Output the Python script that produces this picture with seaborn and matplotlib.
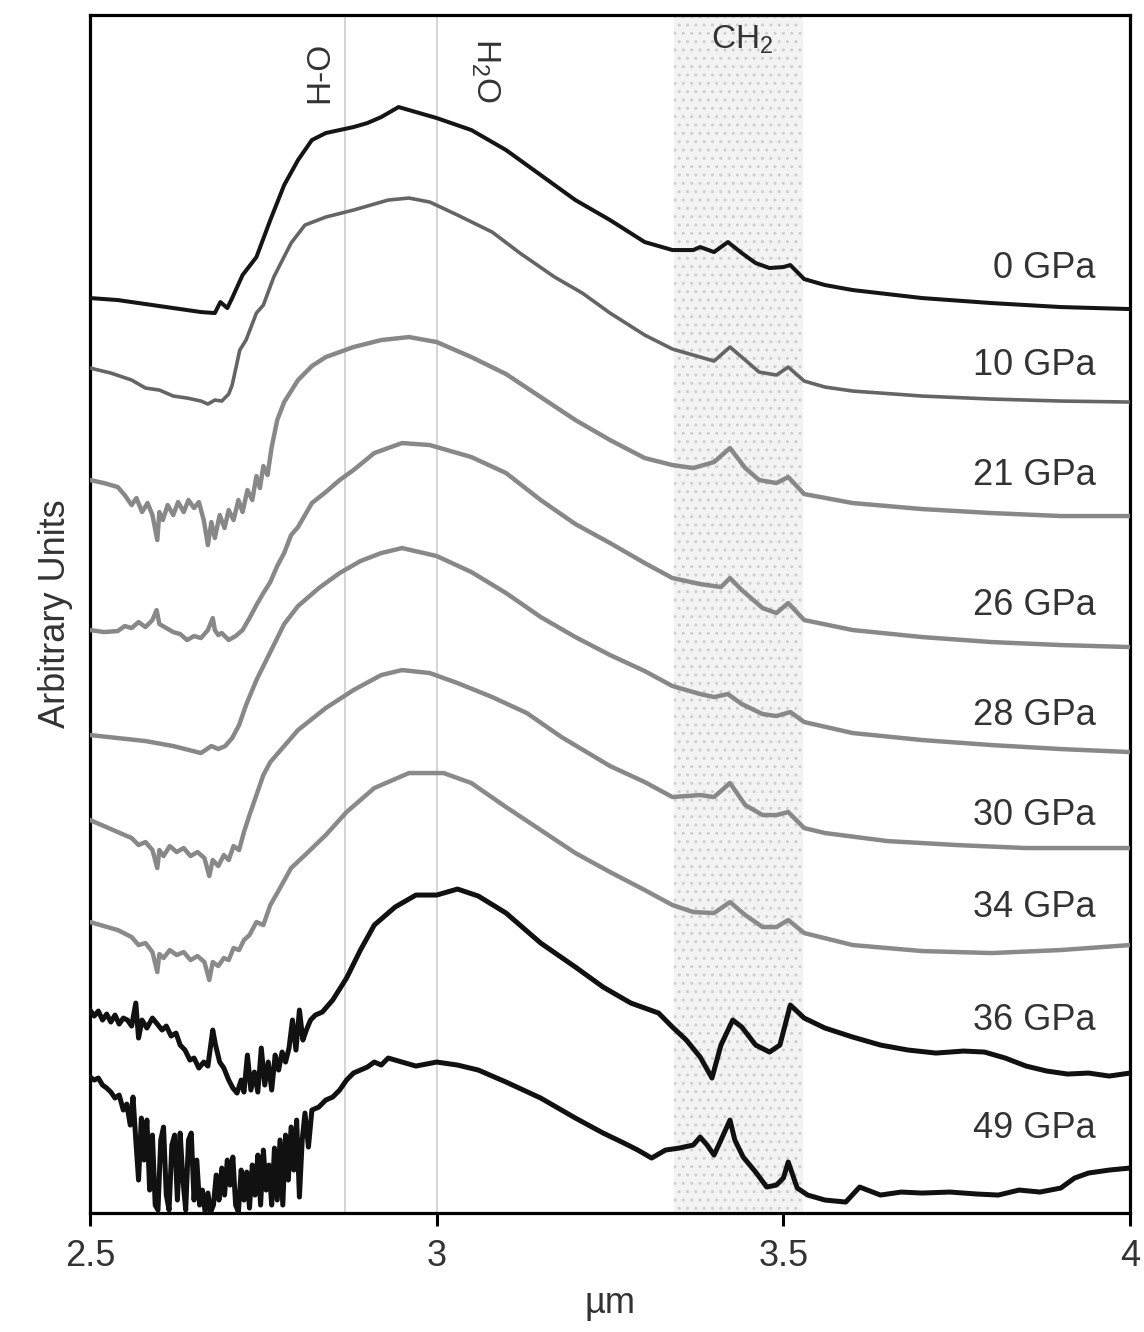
import matplotlib
matplotlib.use("Agg")
import matplotlib.pyplot as plt
import seaborn as sns
import pandas as pd

# ---- data: (wavelength in µm, trace position in arbitrary units, offset stack; larger = lower) ----
spec_0 = [(2.50, 298), (2.54, 300), (2.58, 304), (2.62, 308), (2.66, 312), (2.68, 313), (2.688, 302),
          (2.698, 308), (2.705, 298), (2.72, 275), (2.74, 257), (2.76, 220), (2.78, 185), (2.80, 160),
          (2.82, 140), (2.84, 133), (2.86, 130), (2.88, 127), (2.90, 123), (2.92, 117), (2.945, 107),
          (2.97, 112), (3.00, 118), (3.05, 130), (3.10, 150), (3.15, 175), (3.20, 200), (3.25, 220),
          (3.30, 242), (3.34, 250), (3.37, 250), (3.38, 247), (3.40, 252), (3.42, 242), (3.44, 253),
          (3.46, 263), (3.48, 268), (3.50, 267), (3.51, 265), (3.53, 279), (3.56, 285), (3.60, 290),
          (3.70, 298), (3.80, 303), (3.90, 307), (4.00, 309)]

spec_10 = [(2.50, 368), (2.53, 373), (2.56, 380), (2.58, 388), (2.60, 390), (2.62, 396), (2.64, 398),
           (2.66, 401), (2.67, 404), (2.68, 400), (2.69, 401), (2.70, 394), (2.705, 385), (2.716, 350),
           (2.725, 340), (2.74, 313), (2.75, 305), (2.765, 277), (2.79, 243), (2.81, 225), (2.84, 217),
           (2.88, 210), (2.93, 200), (2.96, 198), (2.99, 202), (3.03, 215), (3.08, 232), (3.12, 253),
           (3.17, 277), (3.21, 293), (3.25, 313), (3.30, 335), (3.34, 349), (3.37, 355), (3.40, 361),
           (3.423, 347), (3.445, 360), (3.465, 372), (3.49, 375), (3.507, 367), (3.53, 381), (3.56, 387),
           (3.60, 391), (3.70, 396), (3.80, 399), (3.90, 401), (4.00, 402)]

spec_21 = [(2.50, 480), (2.52, 483), (2.54, 487), (2.55, 495), (2.56, 505), (2.567, 498), (2.575, 512),
           (2.583, 503), (2.59, 515), (2.597, 540), (2.60, 512), (2.605, 520), (2.612, 505), (2.62, 515),
           (2.627, 502), (2.635, 512), (2.642, 500), (2.65, 508), (2.657, 502), (2.664, 520), (2.67, 545),
           (2.675, 522), (2.68, 538), (2.687, 515), (2.694, 528), (2.70, 510), (2.707, 520), (2.714, 500),
           (2.72, 512), (2.727, 490), (2.734, 500), (2.74, 476), (2.745, 488), (2.75, 466), (2.756, 475),
           (2.762, 447), (2.77, 420), (2.78, 402), (2.80, 380), (2.82, 366), (2.84, 357), (2.86, 352),
           (2.88, 347), (2.92, 340), (2.96, 337), (3.00, 342), (3.05, 357), (3.10, 374), (3.15, 397),
           (3.20, 420), (3.25, 440), (3.30, 458), (3.34, 465), (3.37, 468), (3.40, 462), (3.423, 448),
           (3.445, 468), (3.465, 480), (3.49, 483), (3.507, 477), (3.53, 494), (3.60, 503), (3.70, 509),
           (3.80, 513), (3.90, 516), (4.00, 516)]

spec_26 = [(2.50, 630), (2.52, 632), (2.54, 631), (2.55, 626), (2.56, 628), (2.57, 622), (2.58, 627),
           (2.59, 620), (2.596, 610), (2.60, 624), (2.61, 628), (2.62, 632), (2.63, 634), (2.64, 640),
           (2.65, 636), (2.66, 638), (2.67, 630), (2.677, 618), (2.68, 630), (2.685, 635), (2.69, 633),
           (2.70, 640), (2.71, 636), (2.72, 630), (2.73, 618), (2.74, 605), (2.75, 593), (2.76, 582),
           (2.77, 566), (2.78, 553), (2.79, 535), (2.80, 527), (2.82, 503), (2.84, 492), (2.86, 480),
           (2.88, 470), (2.91, 453), (2.95, 443), (2.99, 445), (3.05, 457), (3.10, 473), (3.15, 500),
           (3.20, 524), (3.25, 543), (3.30, 563), (3.34, 578), (3.38, 584), (3.41, 587), (3.423, 578),
           (3.44, 590), (3.47, 608), (3.49, 613), (3.507, 603), (3.53, 620), (3.60, 630), (3.70, 637),
           (3.80, 642), (3.90, 645), (4.00, 647)]

spec_28 = [(2.50, 735), (2.54, 738), (2.58, 741), (2.62, 746), (2.66, 753), (2.675, 746), (2.685, 749),
           (2.695, 746), (2.705, 738), (2.715, 725), (2.725, 705), (2.74, 680), (2.76, 652), (2.78, 624),
           (2.80, 606), (2.83, 588), (2.86, 573), (2.89, 561), (2.92, 553), (2.95, 548), (3.00, 556),
           (3.05, 572), (3.10, 593), (3.15, 617), (3.20, 637), (3.25, 655), (3.30, 671), (3.34, 686),
           (3.38, 694), (3.40, 697), (3.42, 694), (3.44, 704), (3.47, 714), (3.49, 716), (3.51, 712),
           (3.53, 722), (3.60, 733), (3.70, 740), (3.80, 745), (3.90, 749), (4.00, 752)]

spec_30 = [(2.50, 820), (2.52, 826), (2.54, 832), (2.56, 838), (2.57, 845), (2.58, 842), (2.59, 850),
           (2.597, 868), (2.60, 850), (2.606, 856), (2.615, 846), (2.625, 852), (2.635, 848), (2.645, 856),
           (2.655, 852), (2.665, 858), (2.672, 876), (2.677, 860), (2.685, 866), (2.693, 855), (2.70, 860),
           (2.707, 846), (2.715, 850), (2.722, 832), (2.73, 815), (2.74, 795), (2.75, 775), (2.76, 762),
           (2.78, 746), (2.80, 730), (2.84, 708), (2.88, 690), (2.92, 675), (2.95, 670), (2.99, 673),
           (3.03, 683), (3.08, 697), (3.13, 713), (3.18, 737), (3.25, 766), (3.30, 782), (3.34, 797),
           (3.38, 795), (3.40, 797), (3.423, 783), (3.445, 805), (3.47, 815), (3.49, 815), (3.507, 812),
           (3.53, 828), (3.56, 833), (3.65, 841), (3.75, 845), (3.85, 848), (4.00, 848)]

spec_34 = [(2.50, 922), (2.52, 926), (2.54, 930), (2.56, 937), (2.57, 945), (2.58, 943), (2.59, 952),
           (2.597, 972), (2.60, 954), (2.606, 958), (2.615, 950), (2.625, 955), (2.635, 952), (2.645, 960),
           (2.655, 956), (2.665, 962), (2.672, 980), (2.677, 962), (2.685, 966), (2.693, 958), (2.70, 960),
           (2.707, 948), (2.715, 950), (2.722, 940), (2.73, 935), (2.74, 922), (2.75, 925), (2.76, 905),
           (2.77, 893), (2.79, 868), (2.81, 855), (2.84, 835), (2.87, 812), (2.91, 788), (2.96, 773),
           (3.01, 773), (3.05, 783), (3.10, 807), (3.15, 830), (3.20, 853), (3.25, 872), (3.30, 890),
           (3.34, 905), (3.37, 912), (3.40, 913), (3.423, 902), (3.445, 915), (3.47, 927), (3.49, 927),
           (3.507, 920), (3.53, 933), (3.60, 945), (3.70, 951), (3.80, 953), (3.90, 950), (4.00, 945)]

spec_36 = [(2.50, 1010), (2.506, 1016), (2.512, 1011), (2.518, 1020), (2.524, 1014), (2.53, 1022),
           (2.536, 1015), (2.542, 1024), (2.548, 1018), (2.554, 1020), (2.56, 1026), (2.566, 1003),
           (2.57, 1038), (2.575, 1020), (2.582, 1028), (2.59, 1018), (2.597, 1024), (2.604, 1030),
           (2.61, 1026), (2.617, 1036), (2.624, 1033), (2.63, 1045), (2.637, 1050), (2.644, 1060),
           (2.65, 1058), (2.657, 1068), (2.664, 1062), (2.67, 1066), (2.677, 1030), (2.681, 1045),
           (2.687, 1062), (2.693, 1068), (2.70, 1080), (2.706, 1088), (2.712, 1093), (2.718, 1080),
           (2.722, 1092), (2.727, 1055), (2.732, 1090), (2.737, 1072), (2.742, 1092), (2.747, 1048),
           (2.752, 1085), (2.757, 1062), (2.762, 1090), (2.767, 1055), (2.772, 1070), (2.777, 1052),
           (2.782, 1062), (2.787, 1048), (2.792, 1020), (2.797, 1050), (2.802, 1010), (2.807, 1040),
           (2.812, 1030), (2.818, 1020), (2.825, 1015), (2.835, 1012), (2.85, 1000), (2.87, 978),
           (2.89, 950), (2.91, 925), (2.94, 907), (2.97, 895), (3.00, 895), (3.03, 889), (3.06, 896),
           (3.10, 913), (3.15, 943), (3.20, 967), (3.24, 987), (3.28, 1003), (3.30, 1008), (3.32, 1013),
           (3.34, 1027), (3.36, 1040), (3.38, 1057), (3.397, 1078), (3.41, 1045), (3.427, 1020),
           (3.44, 1027), (3.46, 1045), (3.48, 1052), (3.495, 1045), (3.51, 1005), (3.53, 1018),
           (3.56, 1028), (3.60, 1037), (3.64, 1045), (3.68, 1050), (3.72, 1053), (3.76, 1051),
           (3.79, 1052), (3.82, 1058), (3.85, 1066), (3.88, 1071), (3.91, 1074), (3.94, 1073),
           (3.97, 1076), (4.00, 1073)]

spec_49 = [(2.50, 1077), (2.506, 1080), (2.512, 1078), (2.518, 1085), (2.524, 1088), (2.53, 1092),
           (2.536, 1098), (2.542, 1095), (2.548, 1110), (2.553, 1104), (2.558, 1125), (2.562, 1097),
           (2.566, 1140), (2.57, 1180), (2.574, 1118), (2.578, 1160), (2.582, 1120), (2.586, 1190),
           (2.59, 1135), (2.594, 1205), (2.598, 1210), (2.602, 1140), (2.606, 1127), (2.61, 1195),
           (2.614, 1210), (2.618, 1145), (2.622, 1135), (2.626, 1200), (2.63, 1133), (2.634, 1180),
           (2.638, 1210), (2.642, 1140), (2.646, 1133), (2.65, 1200), (2.654, 1160), (2.658, 1205),
           (2.662, 1190), (2.666, 1212), (2.67, 1193), (2.674, 1212), (2.678, 1205), (2.682, 1175),
           (2.686, 1200), (2.69, 1168), (2.694, 1195), (2.698, 1160), (2.702, 1185), (2.706, 1157),
           (2.71, 1205), (2.714, 1212), (2.718, 1170), (2.722, 1200), (2.726, 1172), (2.73, 1208),
           (2.734, 1165), (2.738, 1195), (2.742, 1155), (2.746, 1205), (2.75, 1150), (2.754, 1190),
           (2.758, 1165), (2.762, 1205), (2.766, 1148), (2.77, 1200), (2.774, 1140), (2.778, 1205),
           (2.782, 1135), (2.786, 1180), (2.79, 1127), (2.794, 1170), (2.798, 1120), (2.802, 1197),
           (2.806, 1140), (2.81, 1113), (2.815, 1147), (2.82, 1110), (2.83, 1107), (2.84, 1100),
           (2.85, 1097), (2.86, 1090), (2.87, 1080), (2.88, 1073), (2.89, 1070), (2.90, 1067),
           (2.91, 1062), (2.92, 1065), (2.93, 1058), (2.95, 1062), (2.97, 1066), (3.00, 1062),
           (3.03, 1065), (3.06, 1070), (3.10, 1082), (3.15, 1098), (3.20, 1118), (3.24, 1133),
           (3.27, 1143), (3.29, 1150), (3.31, 1158), (3.33, 1150), (3.35, 1148), (3.37, 1145),
           (3.38, 1137), (3.39, 1145), (3.40, 1155), (3.41, 1140), (3.423, 1120), (3.43, 1140),
           (3.442, 1157), (3.46, 1172), (3.476, 1187), (3.49, 1185), (3.50, 1178), (3.507, 1162),
           (3.52, 1188), (3.535, 1195), (3.56, 1200), (3.59, 1202), (3.61, 1187), (3.64, 1195),
           (3.67, 1192), (3.70, 1193), (3.74, 1192), (3.78, 1194), (3.81, 1195), (3.84, 1190),
           (3.87, 1192), (3.90, 1188), (3.92, 1178), (3.94, 1173), (3.97, 1170), (4.00, 1168)]

pressures = ["0 GPa", "10 GPa", "21 GPa", "26 GPa", "28 GPa", "30 GPa", "34 GPa", "36 GPa", "49 GPa"]
label_levels = [268, 365, 475, 605, 715, 815, 907, 1020, 1128]
series = [spec_0, spec_10, spec_21, spec_26, spec_28, spec_30, spec_34, spec_36, spec_49]
colors = ["#151515", "#656565", "#888888", "#888888", "#888888", "#888888", "#8a8a8a", "#111111", "#111111"]
widths = [2.9, 2.6, 3.2, 3.2, 3.2, 3.2, 3.2, 3.6, 3.6]

xticks = [2.5, 3.0, 3.5, 4.0]
xtick_labels = ["2.5", "3", "3.5", "4"]
band_lines = [2.868, 3.0]
ch2_band = (3.342, 3.528)

# ---- style ----
sns.set_theme(style="white")
plt.rcParams["font.family"] = ["Liberation Sans", "DejaVu Sans"]
plt.rcParams["mathtext.default"] = "regular"
plt.rcParams["hatch.linewidth"] = 1.0
text_c = "#333333"

fig = plt.figure(figsize=(11.44, 13.32), dpi=100)
ax = fig.add_axes([0.0787, 0.0893, 0.9091, 0.8994])

ax.axvspan(ch2_band[0], ch2_band[1], facecolor="#f3f3f3", edgecolor="#cfcfcf",
           hatch="..", linewidth=0, zorder=0)
for xv in band_lines:
    ax.axvline(xv, color="#d2d2d2", lw=1.3, zorder=0.5)

for name, spec, c, w in zip(pressures, series, colors, widths):
    df = pd.DataFrame(spec, columns=["um", "val"])
    sns.lineplot(data=df, x="um", y="val", ax=ax, color=c, lw=w,
                 estimator=None, sort=False, zorder=3,
                 solid_joinstyle="round", solid_capstyle="round")

for name, lev in zip(pressures, label_levels):
    ax.text(3.95, lev, name, ha="right", va="center", fontsize=26, color=text_c, zorder=4)

ax.text(2.832, 72, "H-O", rotation=90, ha="center", va="center", fontsize=24, color=text_c)
ax.text(3.070, 70, "H$_2$O", rotation=-90, ha="center", va="center", fontsize=24, color=text_c)
ax.text(3.44, 40, "CH$_2$", ha="center", va="center", fontsize=24, color=text_c)

ax.set_xlim(2.5, 4.0)
ax.set_ylim(1213, 15)
ax.set_xticks(xticks)
ax.set_xticklabels(xtick_labels)
ax.set_yticks([])
ax.set_xlabel("µm", fontsize=26, color=text_c, labelpad=8)
ax.set_ylabel("Arbitrary Units", fontsize=26, color=text_c, labelpad=12)
ax.tick_params(axis="x", direction="out", length=9, width=2.2, color="black",
               labelsize=26, labelcolor=text_c, pad=10, bottom=True)
for sp in ax.spines.values():
    sp.set_visible(True)
    sp.set_color("black")
    sp.set_linewidth(2.3)

fig.savefig("out.png", dpi=100)
